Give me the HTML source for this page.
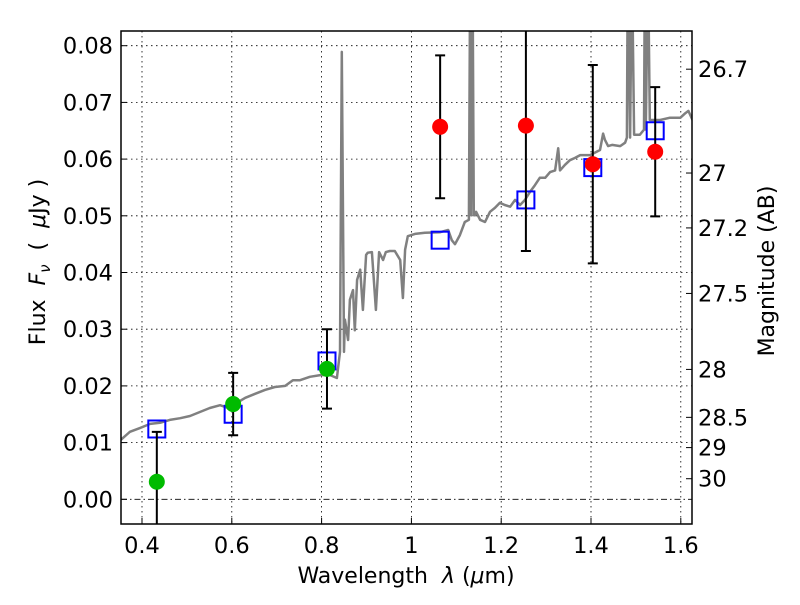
<!DOCTYPE html>
<html><head><meta charset="utf-8"><style>
html,body{margin:0;padding:0;background:#fff;}
svg text{font-family:"DejaVu Sans","Liberation Sans",sans-serif;fill:#000;white-space:pre;}
</style></head><body>
<svg id="chart" width="800" height="600" viewBox="0 0 800 600" xmlns="http://www.w3.org/2000/svg">
<defs><clipPath id="clip"><rect x="121" y="31" width="571" height="493"/></clipPath></defs>
<rect x="0" y="0" width="800" height="600" fill="#fff"/>
<g id="grid"></g>
<g id="spec" clip-path="url(#clip)"></g>
<g id="marks" clip-path="url(#clip)"></g>
<rect x="121" y="31" width="571" height="493" fill="none" stroke="#000" stroke-width="1.5"/>
<g id="axes"></g>
<text x="406" y="583" font-size="22" text-anchor="middle">Wavelength&#160;&#160;<tspan font-style="italic">λ</tspan> (<tspan font-style="italic">μ</tspan>m)</text>
<text transform="translate(45,262) rotate(-90)" font-size="22" text-anchor="middle">Flux&#160;&#160;<tspan font-style="italic">F</tspan><tspan font-style="italic" font-size="15" dy="5">ν</tspan><tspan dy="-5">&#160;&#160;(&#160;&#160;</tspan><tspan font-style="italic">μ</tspan>Jy )</text>
<text transform="translate(774,271) rotate(-90)" font-size="22" text-anchor="middle">Magnitude (AB)</text>
</svg>
<script>
const specWl = [0.353,0.373,0.396,0.418,0.440,0.462,0.485,0.507,0.529,0.551,0.574,0.592,0.607,0.630,0.652,0.674,0.696,0.719,0.736,0.752,0.774,0.797,0.819,0.834,0.841,0.845,0.850,0.852,0.859,0.863,0.870,0.874,0.879,0.886,0.892,0.899,0.903,0.912,0.921,0.928,0.937,0.943,0.952,0.963,0.975,0.981,0.986,0.992,1.008,1.030,1.064,1.082,1.090,1.097,1.108,1.119,1.128,1.131,1.133,1.136,1.139,1.142,1.144,1.153,1.164,1.175,1.186,1.197,1.208,1.220,1.231,1.242,1.253,1.264,1.275,1.286,1.298,1.309,1.320,1.327,1.331,1.342,1.353,1.364,1.376,1.398,1.420,1.427,1.431,1.438,1.447,1.465,1.476,1.480,1.482,1.487,1.491,1.496,1.509,1.518,1.520,1.522,1.527,1.531,1.554,1.576,1.599,1.610,1.617,1.626];
const specFlux = [0.0105,0.0119,0.0126,0.0133,0.0135,0.0140,0.0143,0.0147,0.0154,0.0161,0.0166,0.0161,0.0168,0.0179,0.0186,0.0193,0.0198,0.0200,0.0210,0.0210,0.0216,0.0219,0.0219,0.0214,0.0260,0.0789,0.0260,0.0317,0.0281,0.0352,0.0369,0.0298,0.0387,0.0405,0.0334,0.0431,0.0435,0.0436,0.0334,0.0436,0.0422,0.0436,0.0438,0.0438,0.0422,0.0355,0.0440,0.0464,0.0468,0.0470,0.0471,0.0475,0.0457,0.0450,0.0466,0.0489,0.0493,0.0950,0.0501,0.0950,0.0501,0.0501,0.0507,0.0493,0.0489,0.0507,0.0514,0.0523,0.0519,0.0516,0.0528,0.0519,0.0528,0.0542,0.0554,0.0567,0.0567,0.0577,0.0580,0.0619,0.0580,0.0590,0.0598,0.0602,0.0607,0.0607,0.0616,0.0645,0.0634,0.0623,0.0625,0.0623,0.0629,0.0638,0.0950,0.0638,0.0950,0.0643,0.0643,0.0652,0.0950,0.0652,0.0950,0.0669,0.0669,0.0673,0.0673,0.0681,0.0685,0.0669];
const photWl = [0.433,0.603,0.812,1.064,1.255,1.404,1.543];
const photFlux = [0.0031,0.0168,0.0230,0.0657,0.0659,0.0591,0.0613];
const photErr = [0.0088,0.0055,0.0070,0.0126,0.0221,0.0175,0.0114];
const photDetected = [0,0,0,1,1,1,1];
const modelFlux = [0.0124,0.0150,0.0244,0.0457,0.0528,0.0585,0.0650];
const xTicks = [0.4,0.6,0.8,1.0,1.2,1.4,1.6];
const xTickLabels = ["0.4","0.6","0.8","1","1.2","1.4","1.6"];
const yTicks = [0,0.01,0.02,0.03,0.04,0.05,0.06,0.07,0.08];
const yTickLabels = ["0.00","0.01","0.02","0.03","0.04","0.05","0.06","0.07","0.08"];
const magTicks = [26.7,27,27.2,27.5,28,28.5,29,30];
const magTickLabels = ["26.7","27","27.2","27.5","28","28.5","29","30"];

const NS="http://www.w3.org/2000/svg";
function X(v){return 142+(v-0.4)*449;}
function Y(f){return 499.3-f*5670;}
function magToFlux(m){return Math.pow(10,(23.9-m)/2.5);}
function mk(tag,attrs,parent){const e=document.createElementNS(NS,tag);for(const k in attrs)e.setAttribute(k,attrs[k]);parent.appendChild(e);return e;}
const grid=document.getElementById('grid'),axes=document.getElementById('axes'),spec=document.getElementById('spec'),marks=document.getElementById('marks');

xTicks.forEach((t,i)=>{
  const g=mk('line',{x1:X(t),x2:X(t),y1:31,y2:524,stroke:'#000','stroke-width':0.8,'stroke-dasharray':'1.5,3.5'},grid);
  
  
  const tk=mk('line',{x1:X(t),x2:X(t),y1:524,y2:518,stroke:'#000','stroke-width':1},axes);
  
  
  const tx=mk('text',{x:X(t),y:553,'font-size':22.5,'text-anchor':'middle'},axes);
  tx.textContent=xTickLabels[i];
  
  
});
yTicks.forEach((t,i)=>{
  const g=mk('line',{x1:121,x2:692,y1:Y(t),y2:Y(t),stroke:'#000','stroke-width':0.8,'stroke-dasharray':t===0?'6,3,1.5,3':'1.5,3.5'},grid);
  
  
  const tk=mk('line',{x1:121,x2:127,y1:Y(t),y2:Y(t),stroke:'#000','stroke-width':1},axes);
  
  
  const tx=mk('text',{x:113,y:Y(t)+8,'font-size':22.5,'text-anchor':'end'},axes);
  tx.textContent=yTickLabels[i];
  
  
});
magTicks.forEach((m,i)=>{
  const y=Y(magToFlux(m));
  const tk=mk('line',{x1:686,x2:692,y1:y,y2:y,stroke:'#000','stroke-width':1},axes);
  
  
  const tx=mk('text',{x:698,y:y+8,'font-size':22.5,'text-anchor':'start'},axes);
  tx.textContent=magTickLabels[i];
  
  
});
const d=specWl.map((w,i)=>(i?'L':'M')+X(w).toFixed(1)+','+Y(specFlux[i]).toFixed(1)).join(' ');
const p=mk('path',{d:d,fill:'none',stroke:'#808080','stroke-width':2.5,'stroke-linejoin':'round'},spec);



photWl.forEach((w,i)=>{
  const x=X(w);
  const sq=mk('rect',{x:x-8.5,y:Y(modelFlux[i])-8.5,width:17,height:17,fill:'none',stroke:'#0000ff','stroke-width':2},marks);
  
  
});
photWl.forEach((w,i)=>{
  const x=X(w),y=Y(photFlux[i]),yt=Y(photFlux[i]+photErr[i]),yb=Y(photFlux[i]-photErr[i]);
  const eb=mk('path',{d:`M${x},${yt} L${x},${yb} M${x-5},${yt} L${x+5},${yt} M${x-5},${yb} L${x+5},${yb}`,stroke:'#000','stroke-width':2,fill:'none'},marks);
  
  
  const c=mk('circle',{cx:x,cy:y,r:8,fill:photDetected[i]?'#ff0000':'#00bb00'},marks);
  
  
});
</script>
</body></html>
